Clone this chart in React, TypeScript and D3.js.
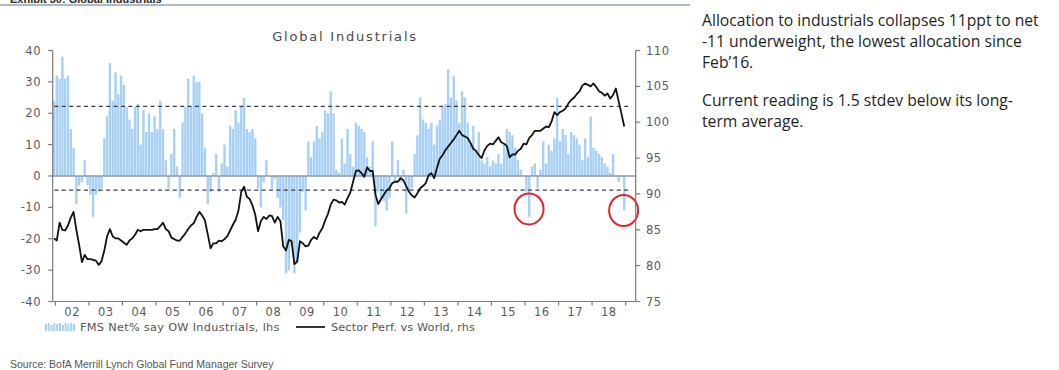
import React from 'react';
import * as d3 from 'd3';

const WIDTH = 1059;
const HEIGHT = 370;

// Monthly observations, first value is Dec 2001, last is Dec 2018
const FIRST_YEAR = 2001;
const FIRST_MONTH = 11; // December (0-based)

// FMS net % of investors overweight industrials (lhs)
const fmsNetOW: number[] = [
  24,
  32, 31, 38, 31, 32, 15, 9, -9, -3, -2, 5, -3,
  -6, -13, -6, -5, -4, 12, 19, 36, 24, 33, 26, 32,
  29, 22, 18, 15, 22, 23, 10, 21, 14, 20, 14, 19,
  15, 24, 15, 5, -4, 7, 15, 3, -7, 17, 22, 31,
  22, 32, 30, 30, 20, 9, -9, -5, 1, 7, -5, 4,
  10, 3, 16, 15, 21, 17, 22, 25, 15, 14, 15, 12,
  -4, -10, -2, 5, 0, -4, -1, -7, -10, -14, -31, -30,
  -22, -31, -28, -18, -5, -11, 11, 6, 11, 16, 12, 14,
  21, 20, 27, 20, 2, 1, 12, 4, 15, 7, 3, 17,
  16, 15, 14, 6, 3, 11, -16, -5, -7, -8, -11, -7,
  11, -2, 5, -2, 2, -12, -5, -4, 7, 13, 25, 18,
  17, 15, 17, 10, 16, 18, 22, 23, 34, 25, 32, 24,
  17, 27, 25, 17, 10, 16, 8, 14, 5, 4, 6, 3,
  5, 4, 7, 4, 10, 15, 14, 13, 9, 5, 2, 0,
  -5, -13, 3, 4, -4, 2, 11, 4, 10, 8, 12, 25,
  11, 15, 13, 7, 14, 13, 12, 10, 5, 12, 6, 19,
  9, 8, 7, 6, 4, 3, 1, 7, 0, -2, 0, -11,
];

// Global industrials sector performance relative to world (rhs)
const sectorPerfVsWorld: number[] = [
  83.8, 83.5, 86.0, 85.0, 84.9, 85.6, 86.7, 87.5, 85.0, 82.9, 80.5, 81.5,
  80.9, 80.9, 80.8, 80.7, 80.1, 80.6, 82.1, 84.1, 85.1, 84.1, 83.8, 83.8,
  83.5, 83.2, 82.9, 83.5, 83.8, 84.3, 85.0, 84.8, 85.0, 85.0, 85.0, 85.0,
  85.1, 85.1, 85.5, 86.0, 85.1, 84.8, 83.9, 83.7, 83.5, 83.5, 84.0, 84.5,
  85.1, 85.6, 85.9, 86.8, 87.5, 87.0, 86.3, 84.4, 82.4, 83.1, 83.1, 83.5,
  83.4, 83.7, 84.1, 84.9, 85.7, 86.4, 87.7, 90.3, 91.0, 89.6, 89.3, 88.4,
  87.1, 84.8, 86.2, 86.8, 86.5, 87.0, 86.9, 86.0, 86.8, 86.2, 82.7, 82.1,
  83.6, 83.4, 80.2, 80.6, 83.4, 83.1, 82.7, 82.8, 83.6, 84.0, 83.7, 84.6,
  85.2, 86.3, 87.2, 88.5, 89.2, 89.1, 88.8, 88.9, 88.5, 89.4, 90.2, 91.7,
  93.2, 93.3, 92.9, 92.4, 93.7, 93.2, 93.2, 89.9, 88.6, 89.3, 89.9, 90.5,
  90.8, 91.5, 91.7, 91.7, 92.2, 91.9, 91.1, 90.3, 89.8, 89.5, 90.1, 90.8,
  91.1, 91.5, 92.6, 92.9, 92.2, 93.6, 94.9, 95.4, 96.1, 96.6, 97.1, 97.6,
  98.2, 98.8, 98.2, 98.0, 97.8, 97.1, 96.3, 96.0, 95.4, 95.0, 96.1, 96.7,
  97.0, 96.9, 97.4, 97.9, 97.2, 97.0, 96.7, 95.1, 95.5, 95.5, 96.0, 96.3,
  97.0, 96.9, 97.8, 98.2, 98.8, 98.8, 98.8, 99.1, 99.4, 99.3, 100.1, 101.4,
  101.0, 101.4, 101.6, 101.9, 102.6, 103.1, 103.4, 103.9, 104.3, 105.1, 105.4, 105.2,
  105.0, 105.4, 104.9, 104.3, 104.1, 103.7, 104.0, 103.3, 103.8, 104.7, 102.9, 101.2, 99.4,
];

// Long-term average and one standard deviation of the survey reading
const longTermAvg = 8.85;
const stdevFms = 13.35;

const yearBoundaries: number[] = [2002, 2003, 2004, 2005, 2006, 2007, 2008, 2009, 2010, 2011, 2012, 2013, 2014, 2015, 2016, 2017, 2018, 2019];
const yearLabels: string[] = ['02', '03', '04', '05', '06', '07', '08', '09', '10', '11', '12', '13', '14', '15', '16', '17', '18'];
const lhsTicks: number[] = [-40, -30, -20, -10, 0, 10, 20, 30, 40];
const rhsTicks: number[] = [75, 80, 85, 90, 95, 100, 105, 110];

const noteParagraphs: string[][] = [
  ['Allocation to industrials collapses 11ppt to net', '-11 underweight, the lowest allocation since', 'Feb\u201916.'],
  ['Current reading is 1.5 stdev below its long-', 'term average.'],
];

const plot = { left: 52.7, right: 635.7, top: 50.5, bottom: 301.5 };

const monthTime = (i: number) => FIRST_YEAR + (FIRST_MONTH + i + 0.5) / 12;

export default function App() {
  const x = d3.scaleLinear().domain([2001.92, 2019.3]).range([plot.left, plot.right]);
  const yL = d3.scaleLinear().domain([-40, 40]).range([plot.bottom, plot.top]);
  const yR = d3.scaleLinear().domain([75, 110]).range([plot.bottom, plot.top]);

  const barW = 2.4;
  const perfLine = d3
    .line<number>()
    .x((_, i) => x(monthTime(i)))
    .y((d) => yR(d))
    .curve(d3.curveLinear);

  const tickFont = { fontFamily: 'DejaVu Sans, sans-serif', fontSize: 11.5, fill: '#5a5a5a', letterSpacing: 0.5 };
  const axisColor = '#7a7a7a';

  const dashStart = x(2001.97);
  const dashEnd = plot.right - 4;
  const legendBars = [7, 8, 6, 8, 7, 8, 6, 8, 7, 8, 7];

  const circles = [
    { t: 2016.12, v: -10.5 },
    { t: 2018.94, v: -11 },
  ];

  return (
    <svg
      width={WIDTH}
      height={HEIGHT}
      style={{ position: 'absolute', left: 0, top: 0, background: '#fff' }}
      fontFamily="DejaVu Sans, sans-serif"
    >
      {/* exhibit header, clipped at the top edge */}
      <text x={10} y={2.5} fontSize={11} fontWeight="bold" fill="#2a2a2a" fontFamily="Liberation Sans, sans-serif">
        Exhibit 30: Global Industrials
      </text>
      <line x1={0} x2={690} y1={5} y2={5} stroke="#8fa2b6" strokeWidth={1.5} />

      {/* title */}
      <text x={345} y={41} textAnchor="middle" fontSize={13} fill="#4a4a4a" letterSpacing={1.8}>
        Global Industrials
      </text>

      {/* bars */}
      <g fill="#a7d0f6">
        {fmsNetOW.map((v, i) => {
          const xc = x(monthTime(i));
          const y0 = yL(0);
          const y1 = yL(v);
          return <rect key={i} x={xc - barW / 2} y={Math.min(y0, y1)} width={barW} height={Math.abs(y1 - y0)} />;
        })}
      </g>

      {/* zero line */}
      <line x1={plot.left} x2={plot.right} y1={yL(0)} y2={yL(0)} stroke="#8d9aa8" strokeWidth={1.6} />

      {/* average +/- one standard deviation */}
      {[longTermAvg + stdevFms, longTermAvg - stdevFms].map((v, i) => (
        <line key={i} x1={dashStart} x2={dashEnd} y1={yL(v)} y2={yL(v)} stroke="#3c3c3c" strokeWidth={1.4} strokeDasharray="4 3.4" />
      ))}

      {/* sector performance line */}
      <path d={perfLine(sectorPerfVsWorld) || ''} fill="none" stroke="#111" strokeWidth={1.8} strokeLinejoin="round" />

      {/* highlight circles */}
      {circles.map((c, i) => (
        <ellipse key={i} cx={x(c.t)} cy={yL(c.v)} rx={14.5} ry={15.5} fill="none" stroke="#e3262b" strokeWidth={2} />
      ))}

      {/* left axis */}
      <line x1={plot.left} x2={plot.left} y1={plot.top} y2={plot.bottom} stroke={axisColor} strokeWidth={1.2} />
      {lhsTicks.map((t) => (
        <g key={t}>
          <line x1={plot.left - 4.5} x2={plot.left} y1={yL(t)} y2={yL(t)} stroke={axisColor} strokeWidth={1.2} />
          <text x={41} y={yL(t)} dy="0.35em" textAnchor="end" {...tickFont}>
            {t}
          </text>
        </g>
      ))}

      {/* right axis */}
      <line x1={plot.right} x2={plot.right} y1={plot.top} y2={plot.bottom} stroke={axisColor} strokeWidth={1.2} />
      {rhsTicks.map((t) => (
        <g key={t}>
          <line x1={plot.right} x2={plot.right + 4.5} y1={yR(t)} y2={yR(t)} stroke={axisColor} strokeWidth={1.2} />
          <text x={646} y={yR(t)} dy="0.35em" textAnchor="start" {...tickFont}>
            {t}
          </text>
        </g>
      ))}

      {/* bottom axis */}
      <line x1={plot.left} x2={plot.right} y1={plot.bottom} y2={plot.bottom} stroke={axisColor} strokeWidth={1.2} />
      {yearBoundaries.map((yr) => (
        <line key={yr} x1={x(yr)} x2={x(yr)} y1={plot.bottom} y2={plot.bottom + 4} stroke={axisColor} strokeWidth={1.2} />
      ))}
      {yearLabels.map((lab, i) => (
        <text key={lab} x={x(yearBoundaries[i] + 0.5)} y={316} textAnchor="middle" {...tickFont}>
          {lab}
        </text>
      ))}

      {/* legend */}
      <g fill="#a7d0f6">
        {legendBars.map((h, i) => (
          <rect key={i} x={45 + i * 2.8} y={331 - h} width={2} height={h} />
        ))}
      </g>
      <text x={80} y={331} fontSize={11.3} fill="#555" letterSpacing={0.3}>
        FMS Net% say OW Industrials, lhs
      </text>
      <line x1={296} x2={325} y1={327} y2={327} stroke="#333" strokeWidth={2} />
      <text x={331} y={331} fontSize={11.3} fill="#555" letterSpacing={0.1}>
        Sector Perf. vs World, rhs
      </text>

      {/* source */}
      <text x={10} y={368} fontSize={10.5} fill="#555" fontFamily="Liberation Sans Narrow, Liberation Sans, sans-serif">
        Source:  BofA Merrill Lynch Global Fund Manager Survey
      </text>

      {/* commentary */}
      <g fontFamily="Open Sans, sans-serif" fontSize={15.7} fill="#1f1f1f">
        {noteParagraphs[0].map((line, i) => (
          <text key={'a' + i} x={702} y={26 + i * 21}>
            {line}
          </text>
        ))}
        {noteParagraphs[1].map((line, i) => (
          <text key={'b' + i} x={702} y={106 + i * 21}>
            {line}
          </text>
        ))}
      </g>
    </svg>
  );
}
